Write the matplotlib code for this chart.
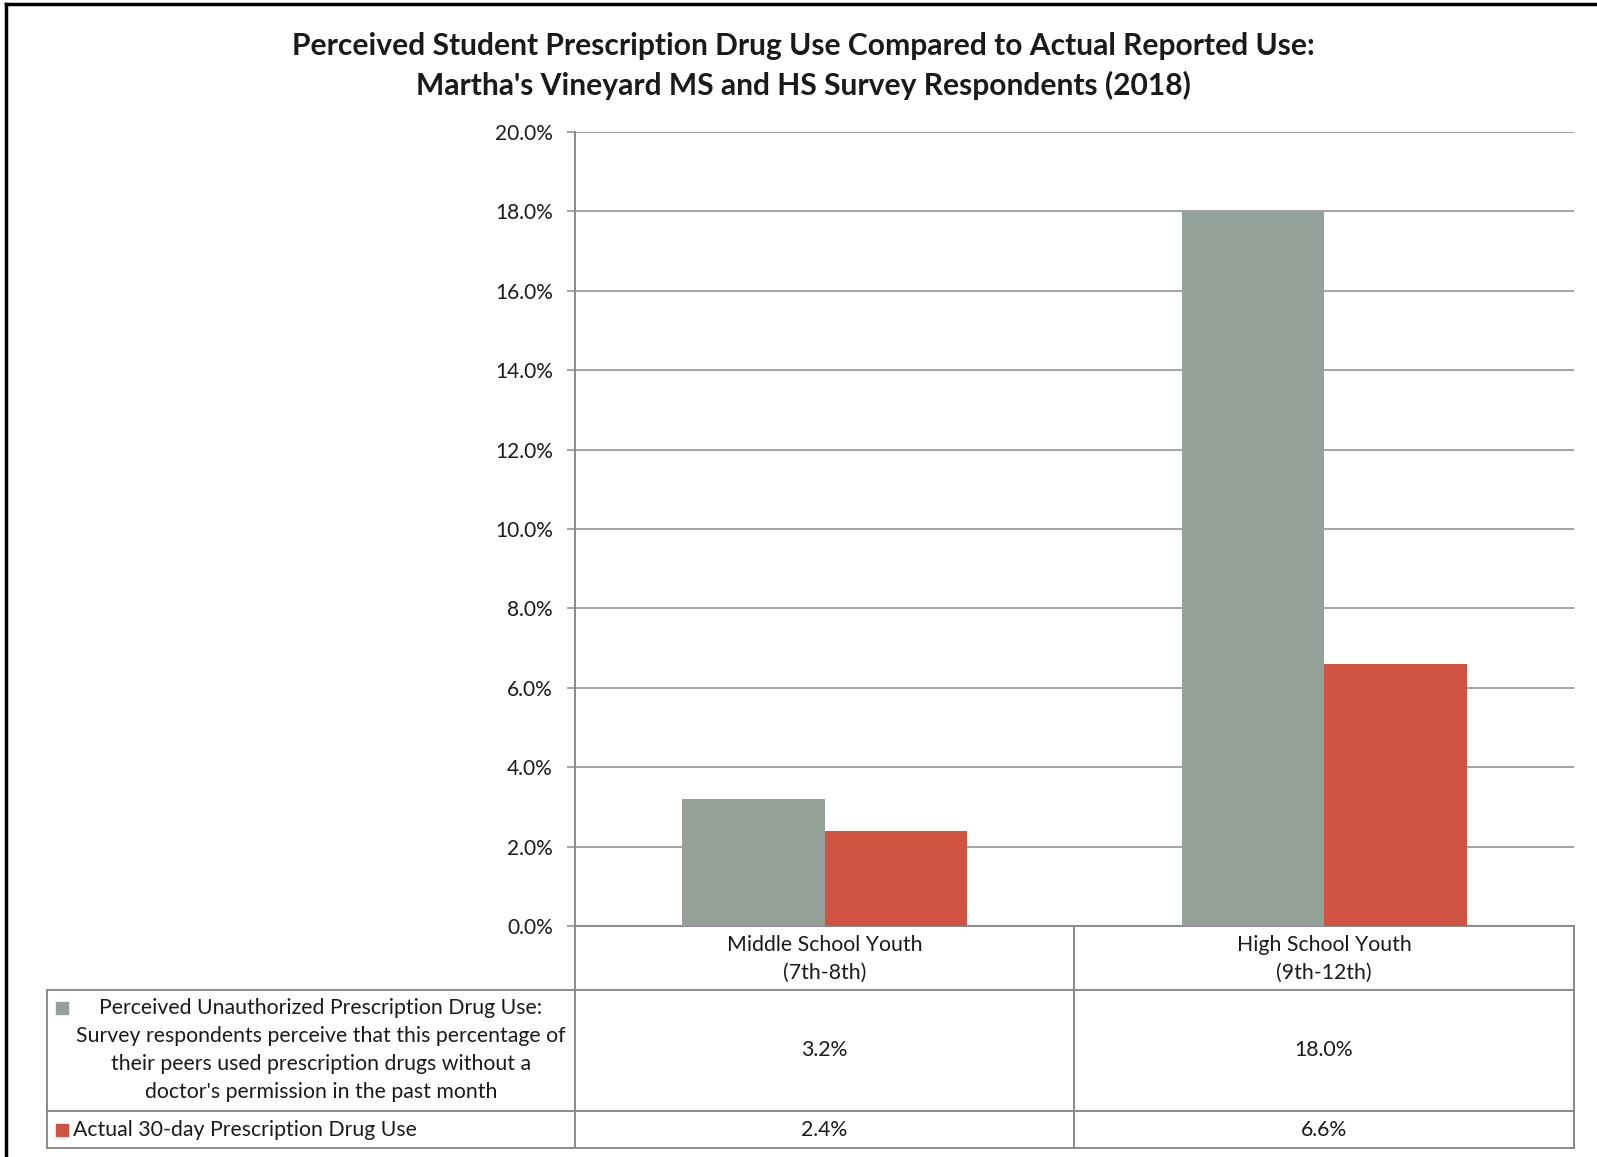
import matplotlib
matplotlib.use('Agg')
import matplotlib.pyplot as plt
from matplotlib.lines import Line2D
from matplotlib.patches import Rectangle
import numpy as np

plt.rcParams['font.family'] = ['Lato', 'DejaVu Sans']

categories = ['Middle School Youth\n(7th-8th)', 'High School Youth\n(9th-12th)']
perceived = [3.2, 18.0]
actual = [2.4, 6.6]
series_names = ["Perceived Unauthorized Prescription Drug Use:\n"
                "Survey respondents perceive that this percentage of\n"
                "their peers used prescription drugs without a\n"
                "doctor's permission in the past month",
                "Actual 30-day Prescription Drug Use"]
yticks = np.arange(0, 21, 2)

GRAY = '#94A199'
RED = '#D05240'
LINE = '#8A8A8A'
TXT = '#1a1a1a'

W, H = 1597, 1157
fig = plt.figure(figsize=(W / 100, H / 100), dpi=100)


def fx(x):
    return x / W


def fy(y):
    return 1 - y / H


# plot area in pixels
L, R, T, B = 575, 1574, 132, 926
ax = fig.add_axes([fx(L), fy(B), fx(R - L), (B - T) / H])

idx = np.arange(len(categories))
w = 0.2857
ax.bar(idx - w / 2, perceived, width=w, color=GRAY, zorder=3)
ax.bar(idx + w / 2, actual, width=w, color=RED, zorder=3)
ax.set_xlim(-0.5, 1.5)
ax.set_ylim(0, 20)
ax.set_yticks(yticks)
ax.set_yticklabels(['%.1f%%' % v for v in yticks], fontsize=15, color=TXT)
ax.set_xticks([])
ax.yaxis.grid(True, color=LINE, linewidth=1.1, zorder=0)
for s in ['top', 'right']:
    ax.spines[s].set_visible(False)
for s in ['left', 'bottom']:
    ax.spines[s].set_color(LINE)
    ax.spines[s].set_linewidth(1.4)
ax.tick_params(axis='y', direction='out', length=6, width=1.1, color=LINE, pad=10)

fig.text(fx(803), fy(46), 'Perceived Student Prescription Drug Use Compared to Actual Reported Use:',
         ha='center', va='center', fontsize=21.6, fontweight='bold', color=TXT)
fig.text(fx(803), fy(85), "Martha's Vineyard MS and HS Survey Respondents (2018)",
         ha='center', va='center', fontsize=21.6, fontweight='bold', color=TXT)

# data table under the chart
col_x = [575, 1074, 1574]
rows_y = [926, 990, 1111, 1148]
tbl_left = 47


def hline(x0, x1, y):
    fig.add_artist(Line2D([fx(x0), fx(x1)], [fy(y), fy(y)], color=LINE, lw=1.4))


def vline(x, y0, y1):
    fig.add_artist(Line2D([fx(x), fx(x)], [fy(y0), fy(y1)], color=LINE, lw=1.4))


hline(tbl_left, col_x[-1], rows_y[1])
hline(tbl_left, col_x[-1], rows_y[2])
hline(tbl_left, col_x[-1], rows_y[3])
for x in col_x:
    vline(x, rows_y[0], rows_y[3])
vline(tbl_left, rows_y[1], rows_y[3])

for i, cat in enumerate(categories):
    cx = (col_x[i] + col_x[i + 1]) / 2
    fig.text(fx(cx), fy((rows_y[0] + rows_y[1]) / 2 + 1), cat, ha='center', va='center',
             fontsize=15.3, color=TXT, linespacing=1.5)
    fig.text(fx(cx), fy((rows_y[1] + rows_y[2]) / 2), '%.1f%%' % perceived[i],
             ha='center', va='center', fontsize=15.3, color=TXT)
    fig.text(fx(cx), fy((rows_y[2] + rows_y[3]) / 2), '%.1f%%' % actual[i],
             ha='center', va='center', fontsize=15.3, color=TXT)

fig.text(fx(321), fy((rows_y[1] + rows_y[2]) / 2), series_names[0], ha='center', va='center',
         fontsize=15.3, color=TXT, linespacing=1.5)
fig.text(fx(73), fy((rows_y[2] + rows_y[3]) / 2), series_names[1], ha='left', va='center',
         fontsize=15.3, color=TXT)
fig.add_artist(Rectangle((fx(56), fy(1014)), fx(12), 12 / H, color=GRAY))
fig.add_artist(Rectangle((fx(56), fy(1136)), fx(12), 12 / H, color=RED))

# outer frame (top and left only, rest is cropped)
fig.add_artist(Line2D([fx(6), 1], [fy(4), fy(4)], color='black', lw=2.5))
fig.add_artist(Line2D([fx(6), fx(6)], [0, fy(4)], color='black', lw=2.5))

fig.savefig('out.png', dpi=100)
